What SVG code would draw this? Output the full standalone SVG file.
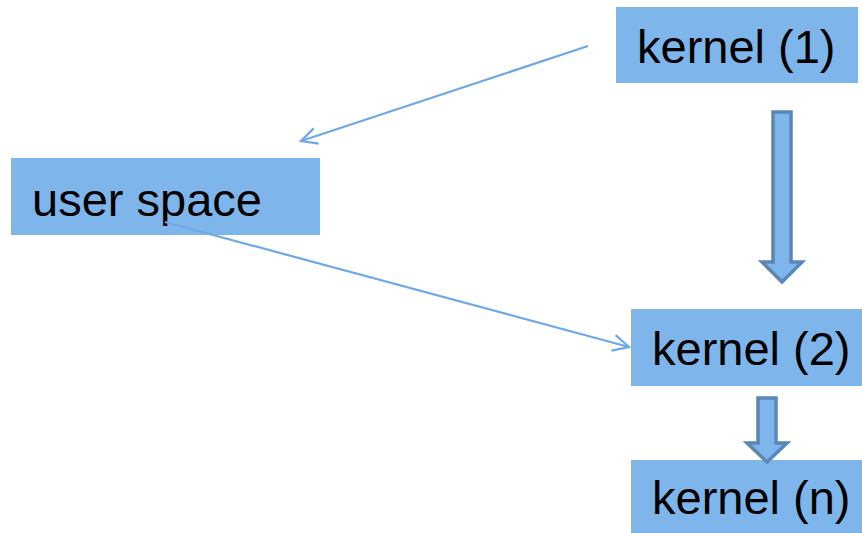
<svg xmlns="http://www.w3.org/2000/svg" width="862" height="533" viewBox="0 0 862 533">
<defs>
<style>
.box{fill:#7EB6EC}
.lbl{font-family:"Liberation Sans",Arial,sans-serif;font-size:47px;fill:#000}
.conn{stroke:#6FA8E6;stroke-width:2.2;fill:none}
.blk{fill:#7EB6EC;stroke:#5B87B6;stroke-width:3.5;stroke-linejoin:miter}
</style>
<marker id="open" viewBox="0 0 20 20" refX="18" refY="10" markerWidth="20" markerHeight="20" markerUnits="userSpaceOnUse" orient="auto">
<path d="M2,2 L18,10 L2,18" fill="none" stroke="#6FA8E6" stroke-width="2.2"/>
</marker>
</defs>
<rect width="862" height="533" fill="#fff"/>
<g id="kernel1"><rect class="box" x="616" y="7" width="242" height="76"/><text class="lbl" x="637" y="63">kernel (1)</text></g>
<g id="userspace"><rect class="box" x="11" y="158" width="309" height="77"/><text class="lbl" x="32" y="216">user space</text></g>
<g id="kernel2"><rect class="box" x="631" y="309" width="231" height="77"/><text class="lbl" x="652" y="365">kernel (2)</text></g>
<g id="kerneln"><rect class="box" x="631" y="460" width="231" height="73"/><text class="lbl" x="652" y="514">kernel (n)</text></g>
<g id="connectors">
<line class="conn" x1="588" y1="46" x2="301" y2="141" marker-end="url(#open)"/>
<line class="conn" x1="165" y1="222" x2="629" y2="347" marker-end="url(#open)"/>
<path class="blk" d="M773,112 L791,112 L791,262 L802,262 L782,282 L762,262 L773,262 Z"/>
<path class="blk" d="M758,398 L776,398 L776,443 L787,443 L767,462 L747,443 L758,443 Z"/>
</g>
</svg>
